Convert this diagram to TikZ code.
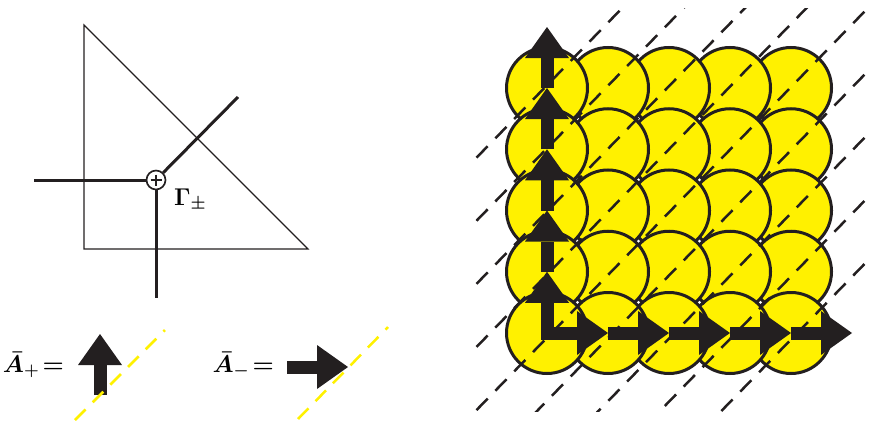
\documentclass[tikz,border=0pt]{standalone}
\usepackage{amsmath,amssymb}
\usepackage{tikz}
\usetikzlibrary{arrows.meta}
\definecolor{Ink}{HTML}{231F20}
\definecolor{Sun}{HTML}{FFF100}
\tikzset{fathead/.tip={Triangle[length=0.93cm, width=1.32cm, line width=0pt]}}

\begin{document}
\begin{tikzpicture}[
    x=0.03cm, y=-0.03cm,
    disc/.style={circle, draw=Ink, fill=Sun, line width=0.09cm, minimum size=2.43cm, inner sep=0pt},
    fat/.style={Ink, line width=0.39cm, -fathead},
    leg/.style={Ink, line width=0.09cm},
    hatch/.style={Ink, line width=0.075cm, dash pattern=on 0.48cm off 0.33cm},
    guide/.style={Sun, line width=0.075cm, dash pattern=on 0.45cm off 0.3cm},
    lbl/.style={inner sep=0pt, font=\huge\boldmath}
]
\useasboundingbox (0,0) rectangle (869,421);

% Triangle and vertex
\draw[Ink, line width=1pt] (84,25) -- (84,249) -- (308,249) -- cycle;
\node[circle, draw=Ink, fill=white, line width=0.05cm, minimum size=0.57cm, inner sep=0pt] (vtx) at (156,180) {};
\draw[Ink, line width=0.06cm] (vtx.center) ++(-5.5,0) -- ++(11,0);
\draw[Ink, line width=0.06cm] (vtx.center) ++(0,-5.5) -- ++(0,11);
\coordinate (west) at (34,180);
\coordinate (south) at (156,298);
\coordinate (ne) at (238,97);
\draw[leg] (vtx) -- (west);
\draw[leg] (vtx) -- (south);
\draw[leg] (vtx) -- (ne);
\node[lbl, anchor=base west] (gam) at (174,205) {$\Gamma_{\pm}$};

% Legend
\node[lbl, anchor=base east] (aplus) at (64,372) {$\bar{A}_{+}\mkern2mu{=}$};
\node[lbl, anchor=base east] (aminus) at (274,372) {$\bar{A}_{-}\mkern2mu{=}$};
\coordinate (up-tail) at (100,395);
\coordinate (up-tip) at (100,334);
\coordinate (rt-tail) at (287,367);
\coordinate (rt-tip) at (348,367);
\draw[fat] (up-tail) -- (up-tip);
\draw[fat] (rt-tail) -- (rt-tip);
\draw[guide] (75,420) -- (165,330);
\draw[guide] (298,419) -- (388,327);

% Grid of discs
\foreach \r in {1,...,5}
  \foreach \c in {5,4,...,1}
    \node[disc] (c-\r-\c) at ({547+61*(\c-1)},{88+61.25*(\r-1)}) {};

% Diagonals
\begin{scope}
  \clip (474,8) rectangle (866,411);
  \foreach \k in {0,...,8}
    \draw[hatch] (420,{647+63.1*\k-431.3}) -- (900,{647+63.1*\k-924.3});
\end{scope}

% Arrows
\coordinate (top) at (547,27);
\coordinate (end) at (852,333);
\draw[fat] (c-1-1.center) -- (top);
\foreach \r/\s in {2/1,3/2,4/3}
  \draw[fat] (c-\r-1.center) -- (c-\s-1.center);
\draw[fat, fathead-fathead] (c-4-1.center) |- (c-5-2.center);
\foreach \c/\d in {2/3,3/4,4/5}
  \draw[fat] (c-5-\c.center) -- (c-5-\d.center);
\draw[fat] (c-5-5.center) -- (end);

\end{tikzpicture}
\end{document}
